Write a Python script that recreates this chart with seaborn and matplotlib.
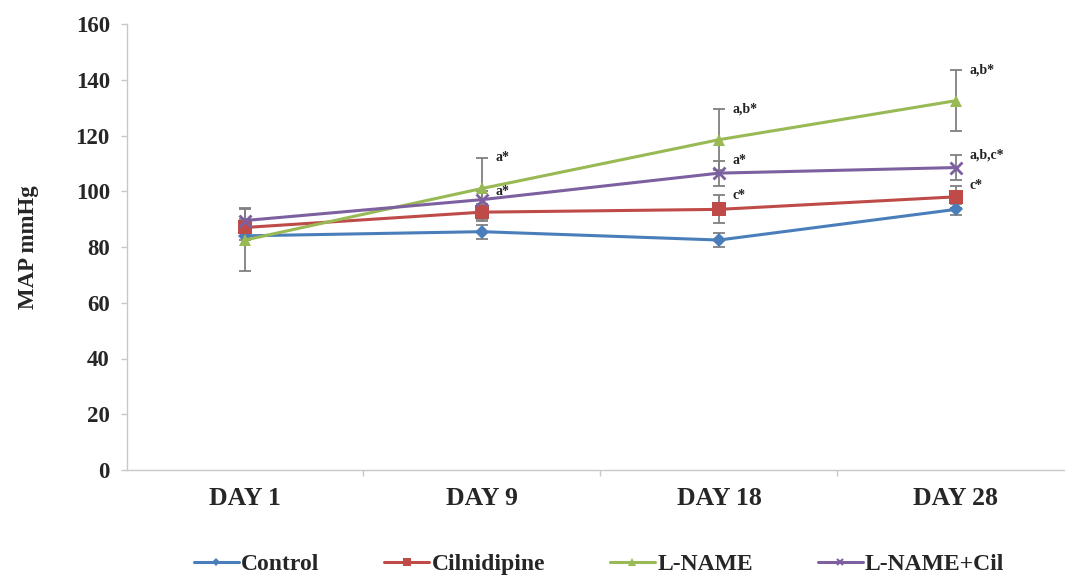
import numpy as np
import pandas as pd
import matplotlib
matplotlib.use("Agg")
import matplotlib.pyplot as plt
import seaborn as sns

days = ["DAY 1", "DAY 9", "DAY 18", "DAY 28"]
groups = ["Control", "Cilnidipine", "L-NAME", "L-NAME+Cil"]

control = [84, 85.5, 82.5, 93.5]
cilnidipine = [87, 92.5, 93.5, 98]
lname = [82.5, 101, 118.5, 132.5]
lname_cil = [89.5, 97, 106.5, 108.5]

control_err = [1.5, 2.5, 2.5, 2]
cilnidipine_err = [3, 3, 5, 4]
lname_err = [11, 11, 11, 11]
lname_cil_err = [4.5, 3, 4.5, 4.5]

# significance labels: (group, day index, text)
labels = [
    ("L-NAME", 1, "a*"), ("L-NAME+Cil", 1, "a*"),
    ("L-NAME", 2, "a,b*"), ("L-NAME+Cil", 2, "a*"), ("Cilnidipine", 2, "c*"),
    ("L-NAME", 3, "a,b*"), ("L-NAME+Cil", 3, "a,b,c*"), ("Cilnidipine", 3, "c*"),
]

colors = {"Control": "#4a7ebb", "Cilnidipine": "#be4b48",
          "L-NAME": "#98b954", "L-NAME+Cil": "#7d60a0"}
markers = {"Control": "D", "Cilnidipine": "s", "L-NAME": "^", "L-NAME+Cil": "X"}
msizes = {"Control": 7, "Cilnidipine": 9.5, "L-NAME": 8.5, "L-NAME+Cil": 8}

values = dict(zip(groups, [control, cilnidipine, lname, lname_cil]))
errors = dict(zip(groups, [control_err, cilnidipine_err, lname_err, lname_cil_err]))

rows = []
for g in groups:
    for i, d in enumerate(days):
        rows.append({"group": g, "x": i, "day": d, "map": values[g][i], "err": errors[g][i]})
df = pd.DataFrame(rows)

sns.set_theme(style="white")
plt.rcParams["font.family"] = ["Liberation Serif", "DejaVu Serif"]
plt.rcParams["font.weight"] = "bold"

fig = plt.figure(figsize=(10.65, 5.77), dpi=100)
ax = fig.add_axes([126.5 / 1065, 107 / 577, 938.5 / 1065, 446 / 577])

for g in groups:
    sub = df[df["group"] == g]
    ax.errorbar(sub["x"], sub["map"], yerr=sub["err"], fmt="none",
                ecolor="#808080", elinewidth=1.3, capsize=4.5, capthick=1.3, zorder=2)

n_before = len(ax.lines)
sns.lineplot(data=df, x="x", y="map", hue="group", style="group",
             palette=colors, markers=markers, dashes=False, linewidth=2.2,
             ax=ax, legend=False, zorder=3)
for line, g in zip(ax.lines[n_before:], groups):
    line.set_markersize(msizes[g])
    if g == "L-NAME+Cil":
        line.set_marker("x")
        line.set_markeredgewidth(2)
        line.set_markeredgecolor(colors[g])
    else:
        line.set_markeredgewidth(0)

for g, i, txt in labels:
    top = values[g][i] + errors[g][i]
    ax.annotate(txt, (i, top), xytext=(10, 0), textcoords="offset points",
                fontsize=10, fontweight="bold", ha="left", va="center", color="#222222")

ax.set_xlim(-0.5, 3.46)
ax.set_ylim(0, 160)
ax.set_yticks(np.arange(0, 161, 20))
ax.set_xticks(range(len(days)))
ax.set_xticklabels(days)
ax.set_xticks([0.5, 1.5, 2.5], minor=True)
ax.set_xlabel("")
ax.set_ylabel("MAP mmHg", fontsize=16.5, fontweight="bold", labelpad=26)
ax.tick_params(axis="y", length=4, width=1, color="#c8c8c8", labelsize=16.5, pad=8,
               direction="out", left=True)
ax.tick_params(axis="x", which="major", length=0, labelsize=18.5, pad=12)
ax.tick_params(axis="x", which="minor", length=4, width=1, color="#c8c8c8",
               direction="out", bottom=True)
for lab in ax.get_xticklabels() + ax.get_yticklabels():
    lab.set_fontweight("bold")
for s in ["top", "right"]:
    ax.spines[s].set_visible(False)
for s in ["left", "bottom"]:
    ax.spines[s].set_color("#c8c8c8")
    ax.spines[s].set_linewidth(1)

handles = []
for g in groups:
    mk = "x" if g == "L-NAME+Cil" else markers[g]
    h = plt.Line2D([], [], color=colors[g], marker=mk, markersize=msizes[g] * 0.6,
                   markeredgewidth=1.5 if g == "L-NAME+Cil" else 0, linewidth=2.2)
    handles.append(h)
fig.legend(handles, groups, loc="center", bbox_to_anchor=(0.5625, 1 - 564 / 577), ncol=4,
           frameon=False, prop={"size": 17, "weight": "bold"}, handlelength=1.9,
           handletextpad=0.1, columnspacing=2.75, borderpad=0)

fig.savefig("out.png", dpi=100)
